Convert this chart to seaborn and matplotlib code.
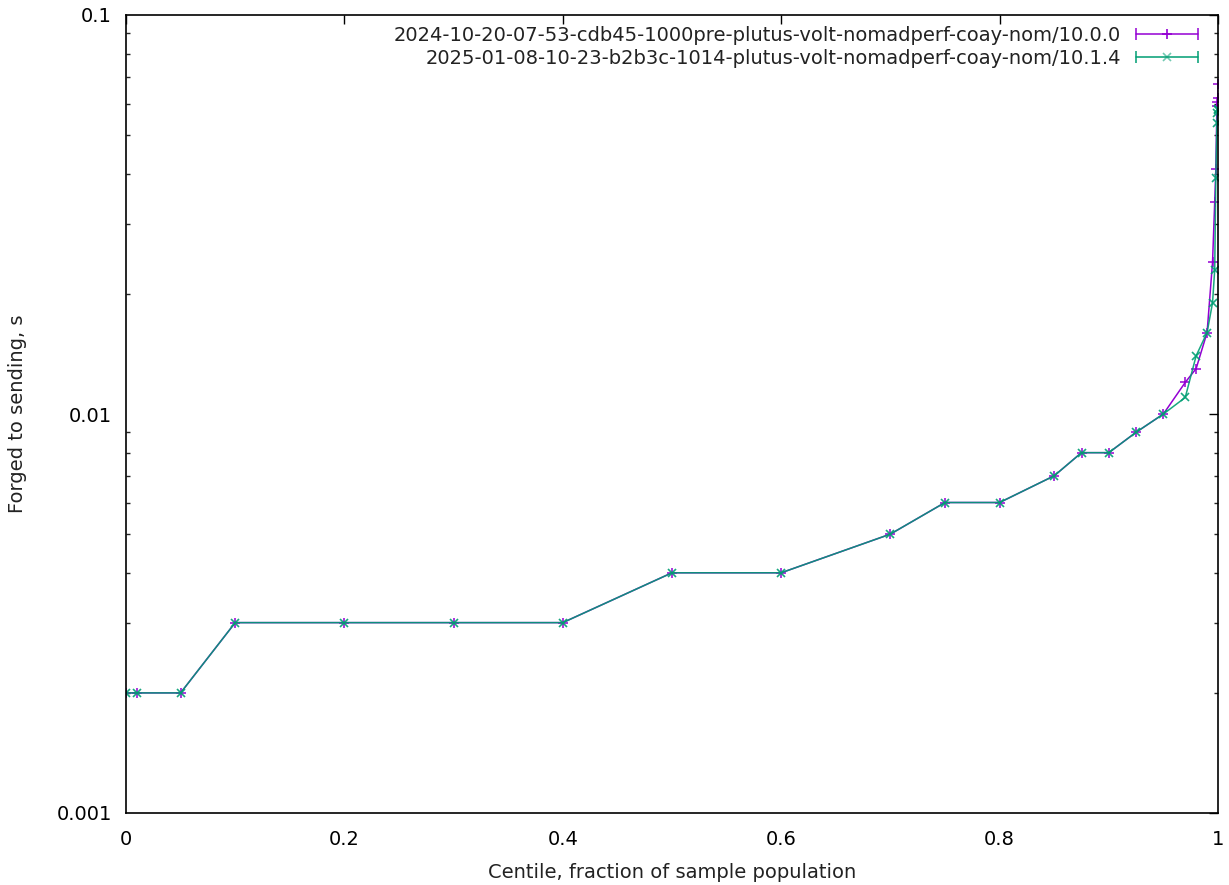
import numpy as np
import pandas as pd
import seaborn as sns
import matplotlib
matplotlib.use("Agg")
import matplotlib.pyplot as plt
from matplotlib.lines import Line2D
from matplotlib.legend_handler import HandlerBase
from matplotlib.colors import to_rgba

centiles_a = [0, 0.01, 0.05, 0.1, 0.2, 0.3, 0.4, 0.5, 0.6, 0.7, 0.75, 0.8, 0.85, 0.875,
              0.9, 0.925, 0.95, 0.97, 0.98, 0.99, 0.995, 0.997, 0.998, 0.999, 0.9995, 0.9999, 1.0]
values_a = [0.002, 0.002, 0.002, 0.003, 0.003, 0.003, 0.003, 0.004, 0.004, 0.005, 0.006, 0.006,
            0.007, 0.008, 0.008, 0.009, 0.010, 0.012, 0.013, 0.016, 0.024, 0.034, 0.041,
            0.059, 0.0605, 0.062, 0.067]
centiles_b = [0, 0.01, 0.05, 0.1, 0.2, 0.3, 0.4, 0.5, 0.6, 0.7, 0.75, 0.8, 0.85, 0.875,
              0.9, 0.925, 0.95, 0.97, 0.98, 0.99, 0.995, 0.997, 0.998, 0.999, 0.9995, 0.9999, 1.0]
values_b = [0.002, 0.002, 0.002, 0.003, 0.003, 0.003, 0.003, 0.004, 0.004, 0.005, 0.006, 0.006,
            0.007, 0.008, 0.008, 0.009, 0.010, 0.011, 0.014, 0.016, 0.019, 0.023, 0.039,
            0.0536, 0.0567, 0.0578, 0.058]
label_a = "2024-10-20-07-53-cdb45-1000pre-plutus-volt-nomadperf-coay-nom/10.0.0"
label_b = "2025-01-08-10-23-b2b3c-1014-plutus-volt-nomadperf-coay-nom/10.1.4"
x_ticks = [0, 0.2, 0.4, 0.6, 0.8, 1.0]
x_tick_labels = ["0", "0.2", "0.4", "0.6", "0.8", "1"]
y_ticks = [0.001, 0.01, 0.1]
y_tick_labels = ["0.001", "0.01", "0.1"]

PURPLE = "#9400d3"
GREEN = "#009e73"
GREEN_MK = to_rgba(GREEN, 0.55)

sns.set_style("white")
plt.rcParams["font.family"] = ["DejaVu Sans"]

fig = plt.figure(figsize=(12.29, 8.85), dpi=100)
ax = fig.add_axes([126 / 1229, 1 - 813 / 885, (1218 - 126) / 1229, (813 - 15) / 885])

df_a = pd.DataFrame({"centile": centiles_a, "value": values_a})
df_b = pd.DataFrame({"centile": centiles_b, "value": values_b})

sns.lineplot(data=df_a, x="centile", y="value", ax=ax, color=PURPLE, lw=1.1,
             marker="+", markersize=7, markeredgewidth=1.1, markeredgecolor=PURPLE,
             estimator=None, label=label_a)
sns.lineplot(data=df_b, x="centile", y="value", ax=ax, color=GREEN, lw=1.1, alpha=0.9,
             marker="x", markersize=6, markeredgewidth=1.2, markeredgecolor=GREEN_MK,
             estimator=None, label=label_b)

ax.set_yscale("log")
ax.set_xlim(0, 1)
ax.set_ylim(0.001, 0.1)
ax.set_xticks(x_ticks)
ax.set_xticklabels(x_tick_labels)
ax.set_yticks(y_ticks)
ax.set_yticklabels(y_tick_labels)
ax.yaxis.set_minor_locator(matplotlib.ticker.LogLocator(base=10, subs=np.arange(2, 10)))
ax.yaxis.set_minor_formatter(matplotlib.ticker.NullFormatter())
ax.tick_params(axis="both", which="major", direction="in", length=6.5, width=1,
               top=True, right=True, labelsize=14, colors="black")
ax.tick_params(axis="y", which="major", pad=10)
ax.tick_params(axis="y", which="minor", direction="in", length=3.2, width=1,
               left=True, right=True)
ax.tick_params(axis="x", which="major", pad=12)
for sp in ax.spines.values():
    sp.set_color("black")
    sp.set_linewidth(1.2)

ax.set_xlabel("Centile, fraction of sample population", fontsize=14, color="#222222")
ax.set_ylabel("Forged to sending, s", fontsize=14, color="#222222")
ax.xaxis.set_label_coords(0.5, -(872 - 813) / 798, transform=ax.transAxes)
ax.yaxis.set_label_coords(-(126 - 18) / 1092, 0.5, transform=ax.transAxes)
ax.xaxis.label.set_va("center")
ax.yaxis.label.set_va("center")


class KeyHandler(HandlerBase):
    def __init__(self, color, marker, ms, mcolor):
        super().__init__()
        self.color = color
        self.marker = marker
        self.ms = ms
        self.mcolor = mcolor

    def create_artists(self, legend, orig_handle, xdescent, ydescent, width, height,
                       fontsize, trans):
        y = height / 2 - ydescent
        x0 = -xdescent
        x1 = -xdescent + width
        line = Line2D([x0, x1], [y, y], color=self.color, lw=1.1)
        caps = Line2D([x0, x1], [y, y], ls="none", marker="|", ms=8, mew=1.1,
                      color=self.color)
        mk = Line2D([(x0 + x1) / 2], [y], ls="none", marker=self.marker, ms=self.ms,
                    mew=1.2, color=self.mcolor)
        for a in (line, caps, mk):
            a.set_transform(trans)
        return [line, caps, mk]


handles = ax.get_lines()[:2]
leg = ax.legend(handles=handles, labels=[label_a, label_b], loc="upper right",
                bbox_to_anchor=(0.9915, 1.0),
                markerfirst=False, frameon=False, handlelength=3.2, handletextpad=0.77,
                borderaxespad=0.15, borderpad=0.4, labelspacing=0.2,
                prop={"family": "DejaVu Sans", "size": 14},
                handler_map={handles[0]: KeyHandler(PURPLE, "+", 7, PURPLE),
                             handles[1]: KeyHandler(GREEN, "x", 6, GREEN_MK)})
for t in leg.get_texts():
    t.set_color("#222222")

fig.savefig("out.png", dpi=100)
